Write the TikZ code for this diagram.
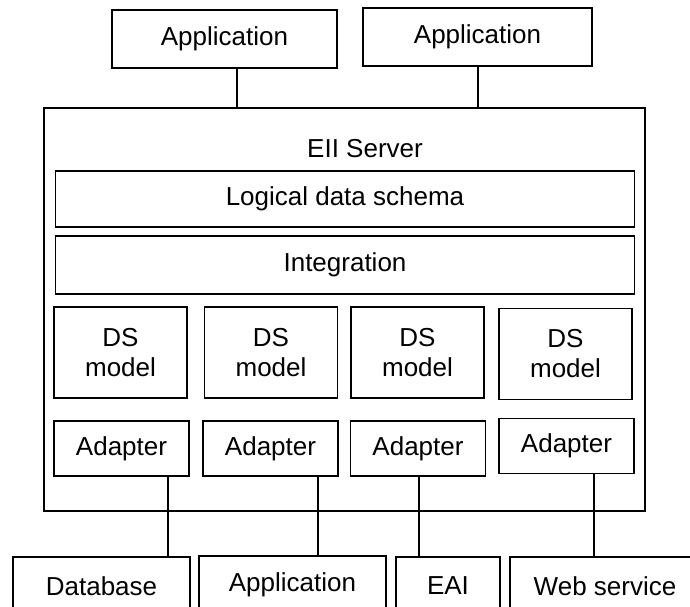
\documentclass[tikz,border=0pt]{standalone}
\usepackage{fontspec}
\setmainfont{Liberation Sans}
\usepackage{tikz}
\usetikzlibrary{positioning}
\tikzset{
layer/.style={draw, line width=1.6pt, minimum width=579pt, inner sep=0pt},
box/.style={draw, line width=1.6pt, inner sep=0pt, align=center},
link/.style={line width=1.3pt}
}

\begin{document}
\begin{tikzpicture}[x=1pt, y=-1pt, font=\fontsize{26}{30}\selectfont]
\useasboundingbox (0,0) rectangle (690,606);
% applications on top
\node[box, minimum width=225pt, minimum height=58pt] (app1) at (224.5,39) {Application};
\node[box, minimum width=229pt, minimum height=58pt] (app2) at (477.5,37) {Application};
% server
\node[draw, line width=1.6pt, minimum width=601pt, minimum height=403pt, inner sep=0pt] (srv) at (344.5,309.5) {};
\node (title) at (365,149) {EII Server};
\node[layer, minimum height=56pt] (logic) at (345,199) {Logical data schema};
\node[layer, minimum height=58pt] (integ) at (345,265) {Integration};
\foreach \n/\x/\y in {1/120.5/352.5, 2/271/352.5, 3/417.5/352.5, 4/565.5/354}{
\node[box, minimum width=133pt, minimum height=91pt] (ds\n) at (\x,\y) {DS\\model};
}
\foreach \n/\x/\y in {1/121.5/448.5, 2/270.5/448.5, 3/418/448.5, 4/566.5/446}{
\node[box, minimum width=135pt, minimum height=55pt] (ad\n) at (\x,\y) {Adapter};
}
% sources below (cut by the page edge)
\node[box, minimum width=177pt, minimum height=58pt] (db) at (101.5,586) {Database};
\node[box, minimum width=187pt, minimum height=58pt] (app3) at (292.5,585) {Application};
\node[box, minimum width=104pt, minimum height=58pt] (eai) at (448,586) {EAI};
\node[box, minimum width=190pt, minimum height=58pt] (web) at (605,586) {Web service};
% connectors
\coordinate (t1) at (237,0);
\coordinate (t2) at (478,0);
\draw[link] (app1.south -| t1) -- (srv.north -| t1);
\draw[link] (app2.south -| t2) -- (srv.north -| t2);
\coordinate (b1) at (168,0);
\coordinate (b2) at (318,0);
\coordinate (b3) at (419,0);
\coordinate (b4) at (594,0);
\draw[link] (ad1.south -| b1) -- (db.north -| b1);
\draw[link] (ad2.south -| b2) -- (app3.north -| b2);
\draw[link] (ad3.south -| b3) -- (eai.north -| b3);
\draw[link] (ad4.south -| b4) -- (web.north -| b4);
\end{tikzpicture}
\end{document}
